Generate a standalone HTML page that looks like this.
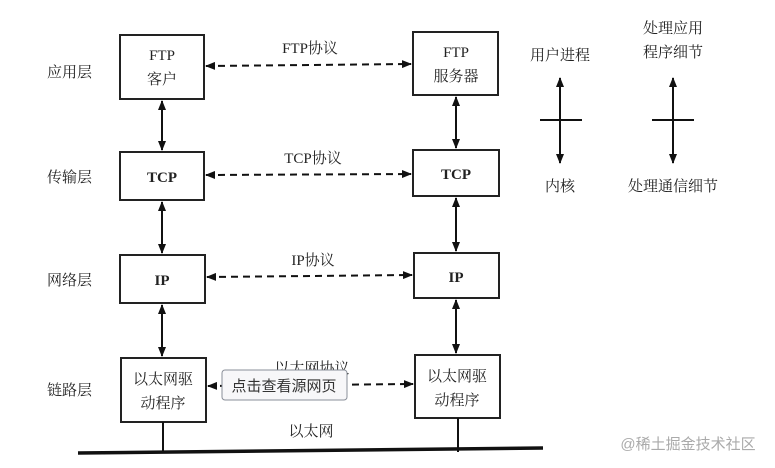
<!DOCTYPE html>
<html><head><meta charset="utf-8"><style>
html,body{margin:0;padding:0;background:#fff;}
</style></head><body>
<svg width="775" height="468" xmlns="http://www.w3.org/2000/svg" style="display:block">
<defs>
<marker id="a" markerWidth="10" markerHeight="8" refX="9" refY="4" orient="auto-start-reverse" markerUnits="userSpaceOnUse"><path d="M0,0 L10,4 L0,8 Z" fill="#111"/></marker>
</defs>
<g font-family="Liberation Serif, Noto Serif CJK SC, serif" fill="#222" font-size="15">
<text x="47" y="77">应用层</text>
<text x="47" y="182">传输层</text>
<text x="47" y="285">网络层</text>
<text x="47" y="395">链路层</text>
</g>
<g fill="none" stroke="#222" stroke-width="2">
<rect x="120" y="35" width="84" height="64"/>
<rect x="413" y="32" width="85" height="63"/>
<rect x="120" y="152" width="84" height="48"/>
<rect x="413" y="150" width="86" height="46"/>
<rect x="120" y="255" width="85" height="48"/>
<rect x="414" y="253" width="85" height="45"/>
<rect x="121" y="358" width="85" height="64"/>
<rect x="415" y="355" width="85" height="63"/>
</g>
<g stroke="#111" stroke-width="2" marker-start="url(#a)" marker-end="url(#a)">
<line x1="162" y1="101" x2="162" y2="150"/>
<line x1="456" y1="97" x2="456" y2="148"/>
<line x1="162" y1="202" x2="162" y2="253"/>
<line x1="456" y1="198" x2="456" y2="251"/>
<line x1="162" y1="305" x2="162" y2="356"/>
<line x1="456" y1="300" x2="456" y2="353"/>
<line x1="560" y1="78" x2="560" y2="163"/>
<line x1="673" y1="78" x2="673" y2="163"/>
</g>
<g stroke="#111" stroke-width="2" stroke-dasharray="7,5" marker-start="url(#a)" marker-end="url(#a)">
<line x1="206" y1="66" x2="411" y2="64"/>
<line x1="206" y1="175" x2="411" y2="174"/>
<line x1="207" y1="277" x2="412" y2="275"/>
<line x1="208" y1="386" x2="413" y2="384"/>
</g>
<g stroke="#111" stroke-width="2">
<line x1="540" y1="120" x2="582" y2="120"/>
<line x1="652" y1="120" x2="694" y2="120"/>
<line x1="163" y1="422" x2="163" y2="453"/>
<line x1="458" y1="418" x2="458" y2="452"/>
</g>
<line x1="78" y1="453" x2="543" y2="448" stroke="#111" stroke-width="3.5"/>
<g font-family="Liberation Serif, Noto Serif CJK SC, serif" fill="#222" font-size="15" text-anchor="middle">
<text x="162" y="60">FTP</text><text x="162" y="84">客户</text>
<text x="456" y="57">FTP</text><text x="456" y="81">服务器</text>
<text x="162" y="182" font-weight="bold">TCP</text>
<text x="456" y="179" font-weight="bold">TCP</text>
<text x="162" y="285" font-weight="bold">IP</text>
<text x="456" y="282" font-weight="bold">IP</text>
<text x="163" y="384">以太网驱</text><text x="163" y="408">动程序</text>
<text x="457" y="381">以太网驱</text><text x="457" y="405">动程序</text>
<text x="310" y="53">FTP协议</text>
<text x="313" y="163">TCP协议</text>
<text x="313" y="265">IP协议</text>
<text x="312" y="373">以太网协议</text>
<text x="311" y="436">以太网</text>
<text x="560" y="60">用户进程</text>
<text x="560" y="191">内核</text>
<text x="673" y="33">处理应用</text>
<text x="673" y="57">程序细节</text>
<text x="673" y="191">处理通信细节</text>
</g>
<rect x="222" y="370" width="125" height="30" rx="3" fill="#f7f7f9" stroke="#8a8f99" stroke-width="1"/>
<text x="284" y="391" text-anchor="middle" font-family="Liberation Sans, Noto Sans CJK SC, sans-serif" font-size="15" fill="#333">点击查看源网页</text>
<text x="688" y="449" text-anchor="middle" font-family="Liberation Sans, Noto Sans CJK SC, sans-serif" font-size="15" fill="#aaa">@稀土掘金技术社区</text>
</svg>
</body></html>
